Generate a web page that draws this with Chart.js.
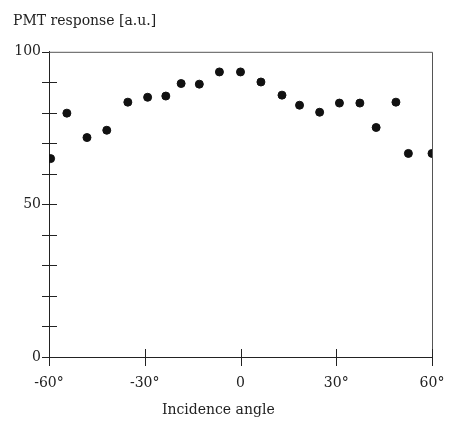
<!DOCTYPE html>
<html>
<head>
<meta charset="utf-8">
<script src="https://cdn.jsdelivr.net/npm/chart.js@4"></script>
<style>
  html, body { margin: 0; padding: 0; background: #fff; }
  #wrap { width: 455px; height: 426px; }
</style>
</head>
<body>
<div id="wrap"><canvas id="pmtChart" width="455" height="426"></canvas></div>
<script>
// incidence angle (deg) and PMT response (a.u.)
const angles = [-59.5, -54.4, -48.1, -41.9, -35.3, -29.1, -23.4, -18.6, -12.9, -6.6, 0,
                6.4, 13.0, 18.5, 24.8, 31.0, 37.4, 42.5, 48.7, 52.6, 60];
const response = [65.0, 79.9, 71.9, 74.3, 83.5, 85.1, 85.5, 89.6, 89.4, 93.4, 93.4,
                  90.1, 85.8, 82.5, 80.2, 83.2, 83.2, 75.2, 83.5, 66.7, 66.7];
const yLabels = [0, 50, 100];
const xTitle = 'Incidence angle';

const FONT = 'DejaVu Serif';
const INK = '#222';

// tick marks that cross the axis line, the top/right frame and the x caption
const crossTicks = {
  id: 'crossTicks',
  afterDatasetsDraw(chart) {
    const { ctx, chartArea: a, scales: { x, y } } = chart;
    ctx.save();
    ctx.strokeStyle = '#555';
    ctx.lineWidth = 1;
    ctx.beginPath();
    ctx.moveTo(a.left, a.top + 0.5);
    ctx.lineTo(a.right + 0.5, a.top + 0.5);
    ctx.lineTo(a.right + 0.5, a.bottom);
    ctx.stroke();

    ctx.strokeStyle = INK;
    ctx.beginPath();
    y.ticks.forEach(t => {
      const py = Math.round(y.getPixelForValue(t.value)) + 0.5;
      ctx.moveTo(a.left - 7, py);
      ctx.lineTo(t.value === 100 ? a.left : a.left + 8, py);
    });
    x.ticks.forEach(t => {
      const px = Math.round(x.getPixelForValue(t.value)) + 0.5;
      ctx.moveTo(px, a.bottom - 8);
      ctx.lineTo(px, a.bottom + 9);
    });
    ctx.stroke();

    // caption sits a little left of the axis centre
    ctx.fillStyle = INK;
    ctx.font = '14px "' + FONT + '"';
    ctx.textAlign = 'center';
    ctx.textBaseline = 'middle';
    ctx.fillText(xTitle, a.left + (a.right - a.left) * 0.442, x.bottom - 16);
    ctx.restore();
  }
};

new Chart(document.getElementById('pmtChart'), {
  type: 'scatter',
  data: {
    datasets: [{
      data: angles.map((a, i) => ({ x: a, y: response[i] })),
      backgroundColor: '#111',
      borderColor: '#111',
      pointRadius: 4,
      pointHoverRadius: 4
    }]
  },
  options: {
    responsive: false,
    animation: false,
    layout: { padding: { left: 13, right: 23, top: 0, bottom: 0 } },
    plugins: {
      legend: { display: false },
      tooltip: { enabled: false },
      title: {
        display: true,
        text: 'PMT response [a.u.]',
        align: 'start',
        color: INK,
        font: { family: FONT, size: 14, weight: 'normal' },
        padding: { top: 13, bottom: 22 }
      }
    },
    scales: {
      x: {
        type: 'linear',
        min: -60,
        max: 60,
        afterFit(s) {
          s.height = 69;
          s.paddingLeft = 0;
          s.paddingRight = 0;
        },
        grid: { display: false, drawTicks: false },
        border: { display: true, color: INK, width: 1 },
        ticks: {
          stepSize: 30,
          padding: 18,
          maxRotation: 0,
          color: INK,
          font: { family: FONT, size: 14 },
          callback: v => (v === 0 ? '0' : v + '°')
        }
      },
      y: {
        min: 0,
        max: 100,
        afterFit(s) { s.width = 36; },
        grid: { display: false, drawTicks: false },
        border: { display: true, color: INK, width: 1 },
        ticks: {
          stepSize: 10,
          padding: 8,
          color: INK,
          font: { family: FONT, size: 14 },
          callback: v => (yLabels.includes(v) ? String(v) : '')
        }
      }
    }
  },
  plugins: [crossTicks]
});
</script>
</body>
</html>
